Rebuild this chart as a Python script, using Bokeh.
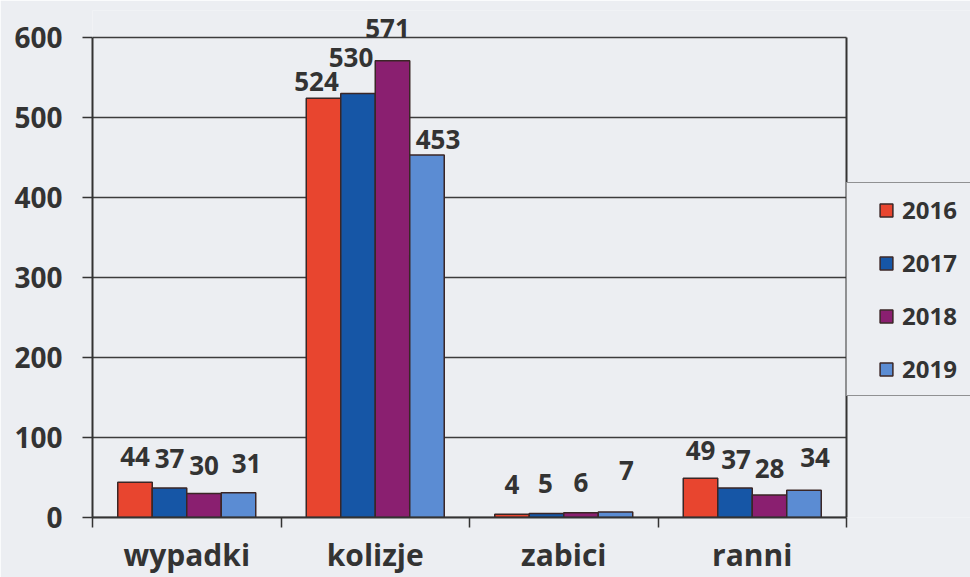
from bokeh.plotting import figure
from bokeh.models import (Range1d, FixedTicker, Legend, LegendItem, ColumnDataSource)
from bokeh.core.properties import value
from bokeh.embed import file_html
from bokeh.resources import INLINE
import numpy as np

# ---- data ----
categories = ["wypadki", "kolizje", "zabici", "ranni"]
years = ["2016", "2017", "2018", "2019"]
v2016 = [44, 524, 4, 49]
v2017 = [37, 530, 5, 37]
v2018 = [30, 571, 6, 28]
v2019 = [31, 453, 7, 34]
y_ticks = [0, 100, 200, 300, 400, 500, 600]
y_max = 600

series = [v2016, v2017, v2018, v2019]
colors = ["#E8452F", "#1656A6", "#8A1F70", "#5B8CD3"]

# label pixel offsets (dx, dy above bar top) per series, per category
label_dx = [[0, -7, 0, 0], [0, -7, -1, 1], [0, -5, 0, 0], [8, 11, 11, 11]]
label_dy = [[26, 17, 30, 28], [29, 36, 30, 28], [28, 32, 30, 27], [29, 16, 41, 33]]

BG = "#ECEEF2"
INK = "#333333"
FONT = "Open Sans"

W, H = 970, 577
LEFT, TOP, BOTTOM = 92, 10, 60
PLOT_RIGHT = 846             # right edge of the bar area in px
n = len(categories)
cat_px = (PLOT_RIGHT - LEFT) / n
px_per_unit = (H - BOTTOM - 37) / y_max   # 600 sits at 37px from the top

x_end = n + (W - PLOT_RIGHT) / cat_px
y_end = y_max + (37 - TOP) / px_per_unit

p = figure(width=W, height=H, output_backend="svg", toolbar_location=None,
           x_range=Range1d(0, x_end), y_range=Range1d(0, y_end),
           min_border_left=LEFT, min_border_right=0, min_border_top=TOP,
           min_border_bottom=BOTTOM)
p.background_fill_color = BG
p.border_fill_color = BG
p.outline_line_color = None

# horizontal grid lines limited to the plot area
p.xgrid.grid_line_color = None
p.ygrid.grid_line_color = None
p.segment(x0=[0] * len(y_ticks), y0=y_ticks, x1=[n] * len(y_ticks), y1=y_ticks,
          line_color="#3c3c3c", line_width=1.3)
# right border of the plot area
p.segment(x0=[n], y0=[0], x1=[n], y1=[y_max], line_color=INK, line_width=2)

bar_w = 0.183
xc = np.arange(n) + 0.5
renderers = []
for i, (vals, col) in enumerate(zip(series, colors)):
    off = (i - 1.5) * bar_w
    src = ColumnDataSource(dict(x=xc + off, top=vals, label=[str(v) for v in vals],
                                dx=label_dx[i], dy=[-d for d in label_dy[i]]))
    r = p.vbar(x="x", top="top", width=bar_w, bottom=0, source=src,
               fill_color=col, line_color="#3a2626", line_width=1.5)
    renderers.append(r)
    p.text(x="x", y="top", text="label", source=src, x_offset="dx", y_offset="dy",
           text_align="center", text_baseline="middle",
           text_font=value(FONT), text_font_style="bold", text_font_size="26px",
           text_color=INK)

# y axis
p.yaxis.ticker = FixedTicker(ticks=y_ticks)
p.yaxis.bounds = (0, y_max)
p.yaxis.axis_line_color = INK
p.yaxis.axis_line_width = 2
p.yaxis.major_tick_line_color = INK
p.yaxis.major_tick_line_width = 1.5
p.yaxis.major_tick_out = 10
p.yaxis.major_tick_in = 0
p.yaxis.minor_tick_line_color = None
p.yaxis.major_label_standoff = 20
p.yaxis.major_label_text_font = FONT
p.yaxis.major_label_text_font_style = "bold"
p.yaxis.major_label_text_font_size = "28px"
p.yaxis.major_label_text_color = INK

# x axis: labels at centres, ticks at boundaries
p.xaxis.ticker = FixedTicker(ticks=list(xc), minor_ticks=list(range(n + 1)))
p.xaxis.bounds = (0, n)
p.xaxis.major_label_overrides = {float(x): c for x, c in zip(xc, categories)}
p.xaxis.axis_line_color = INK
p.xaxis.axis_line_width = 2
p.xaxis.major_tick_line_color = None
p.xaxis.major_tick_out = 0
p.xaxis.major_tick_in = 0
p.xaxis.minor_tick_line_color = INK
p.xaxis.minor_tick_line_width = 1.5
p.xaxis.minor_tick_out = 10
p.xaxis.minor_tick_in = 0
p.xaxis.major_label_standoff = 6
p.xaxis.major_label_text_font = FONT
p.xaxis.major_label_text_font_style = "bold"
p.xaxis.major_label_text_font_size = "30px"
p.xaxis.major_label_text_color = INK

# legend, its box starting at the right edge of the bar area
legend = Legend(items=[LegendItem(label=y, renderers=[r]) for y, r in zip(years, renderers)],
                location=(PLOT_RIGHT - LEFT, 121), orientation="vertical",
                title=" ", title_location="left", title_text_font_size="10px", title_standoff=11,
                padding=9, spacing=18, margin=0,
                glyph_width=16, glyph_height=16, label_height=35, label_width=75,
                label_standoff=8,
                label_text_font=FONT, label_text_font_style="bold",
                label_text_font_size="24px", label_text_color=INK,
                border_line_color=INK, border_line_width=1.5,
                background_fill_color=BG, background_fill_alpha=1)
p.add_layout(legend, "center")

open("out.html", "w").write(file_html(p, INLINE))
